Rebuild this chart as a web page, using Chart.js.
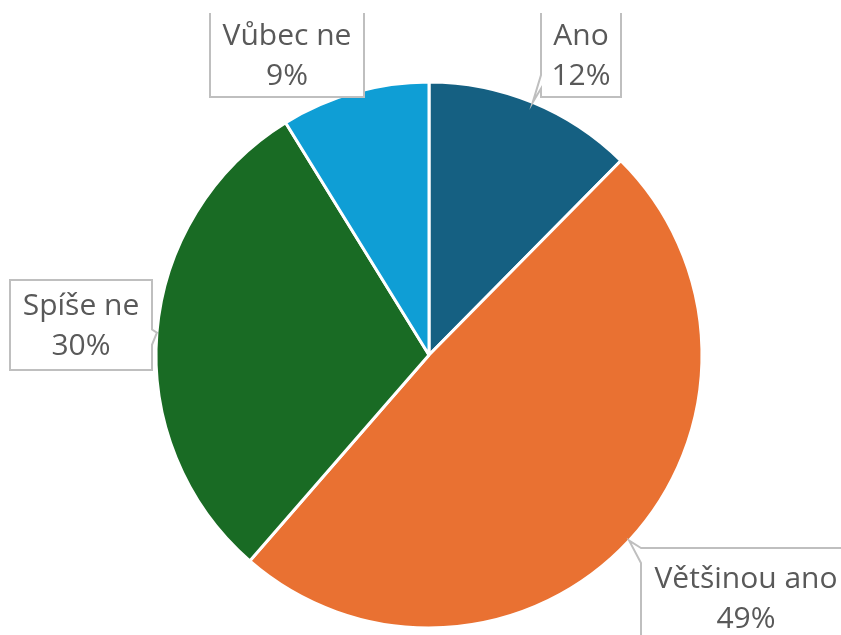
<!DOCTYPE html>
<html>
<head>
<meta charset="utf-8">
<script src="https://cdn.jsdelivr.net/npm/chart.js@4.4.1/dist/chart.umd.min.js"></script>
<style>
html,body{margin:0;padding:0;background:#fff;}
#wrap{width:841px;height:635px;position:relative;}
</style>
</head>
<body>
<div id="wrap"><canvas id="pie" width="841" height="635"></canvas></div>
<script>
// Data (share of answers, %)
const labels = ["Ano", "Většinou ano", "Spíše ne", "Vůbec ne"];
const values = [12.4, 49.0, 29.8, 8.8];
const colors = ["#156082", "#E97132", "#196B24", "#0F9ED5"];

// Callout boxes (layout only): box rect, tail side and tail base along that side
const callouts = [
    {x:541, y:13, w:80, h:84, openTop:true, side:"left", base:[0.74,0.9]},
    {x:641, y:548, w:210, h:100, side:"left", base:[0,0.15]},
    {x:10, y:280, w:142, h:90, side:"right", base:[0.55,0.72]},
    {x:210, y:13, w:154, h:84, openTop:true, side:"bottom", base:[0.8,0.95]}
];

// Callout label plugin
const calloutPlugin = {
    id:"callouts",
    afterDraw(chart){
        const ctx = chart.ctx;
        const meta = chart.getDatasetMeta(0);
        const total = values.reduce((a,b)=>a+b,0);
        meta.data.forEach((arc,i)=>{
            const c = callouts[i];
            const mid = (arc.startAngle+arc.endAngle)/2;
            const tip = {x:arc.x+Math.cos(mid)*arc.outerRadius, y:arc.y+Math.sin(mid)*arc.outerRadius};
            const inside = tip.x>=c.x && tip.x<=c.x+c.w && tip.y>=c.y && tip.y<=c.y+c.h;
            ctx.save();
            // outline path with notch
            let pts = [];
            const L=c.x, R=c.x+c.w, T=c.y, B=c.y+c.h;
            pts.push([L,T]);
            if(!inside && c.side==="left"){ pts.push([L,T+c.h*c.base[0]]); pts.push([tip.x,tip.y]); pts.push([L,T+c.h*c.base[1]]); }
            pts.push([L,B]);
            if(!inside && c.side==="bottom"){ pts.push([L+c.w*c.base[0],B]); pts.push([tip.x,tip.y]); pts.push([L+c.w*c.base[1],B]); }
            pts.push([R,B]);
            if(!inside && c.side==="right"){ pts.push([R,T+c.h*c.base[1]]); pts.push([tip.x,tip.y]); pts.push([R,T+c.h*c.base[0]]); }
            pts.push([R,T]);
            ctx.beginPath();
            pts.forEach((p,k)=>k?ctx.lineTo(p[0],p[1]):ctx.moveTo(p[0],p[1]));
            ctx.closePath();
            ctx.fillStyle="#ffffff";
            ctx.fill();
            ctx.beginPath();
            pts.forEach((p,k)=>k?ctx.lineTo(p[0],p[1]):ctx.moveTo(p[0],p[1]));
            if(!c.openTop) ctx.closePath();
            ctx.strokeStyle="#bfbfbf";
            ctx.lineWidth=2;
            ctx.lineJoin="miter";
            ctx.stroke();
            // text
            const cx = c.x+c.w/2, cy = c.y+c.h/2;
            ctx.fillStyle="#595959";
            ctx.font="30px 'Open Sans'";
            ctx.textAlign="center";
            ctx.textBaseline="middle";
            ctx.fillText(labels[i], cx, cy-19);
            ctx.fillText(Math.round(values[i]/total*100)+"%", cx, cy+21);
            ctx.restore();
        });
    }
};

new Chart(document.getElementById("pie"),{
    type:"pie",
    data:{labels:labels,datasets:[{data:values,backgroundColor:colors,borderColor:"#ffffff",borderWidth:3}]},
    options:{
        responsive:false,
        animation:false,
        radius:273,
        layout:{padding:{left:155,right:138,top:81,bottom:6}},
        plugins:{legend:{display:false},tooltip:{enabled:false}}
    },
    plugins:[calloutPlugin]
});
</script>
</body>
</html>
